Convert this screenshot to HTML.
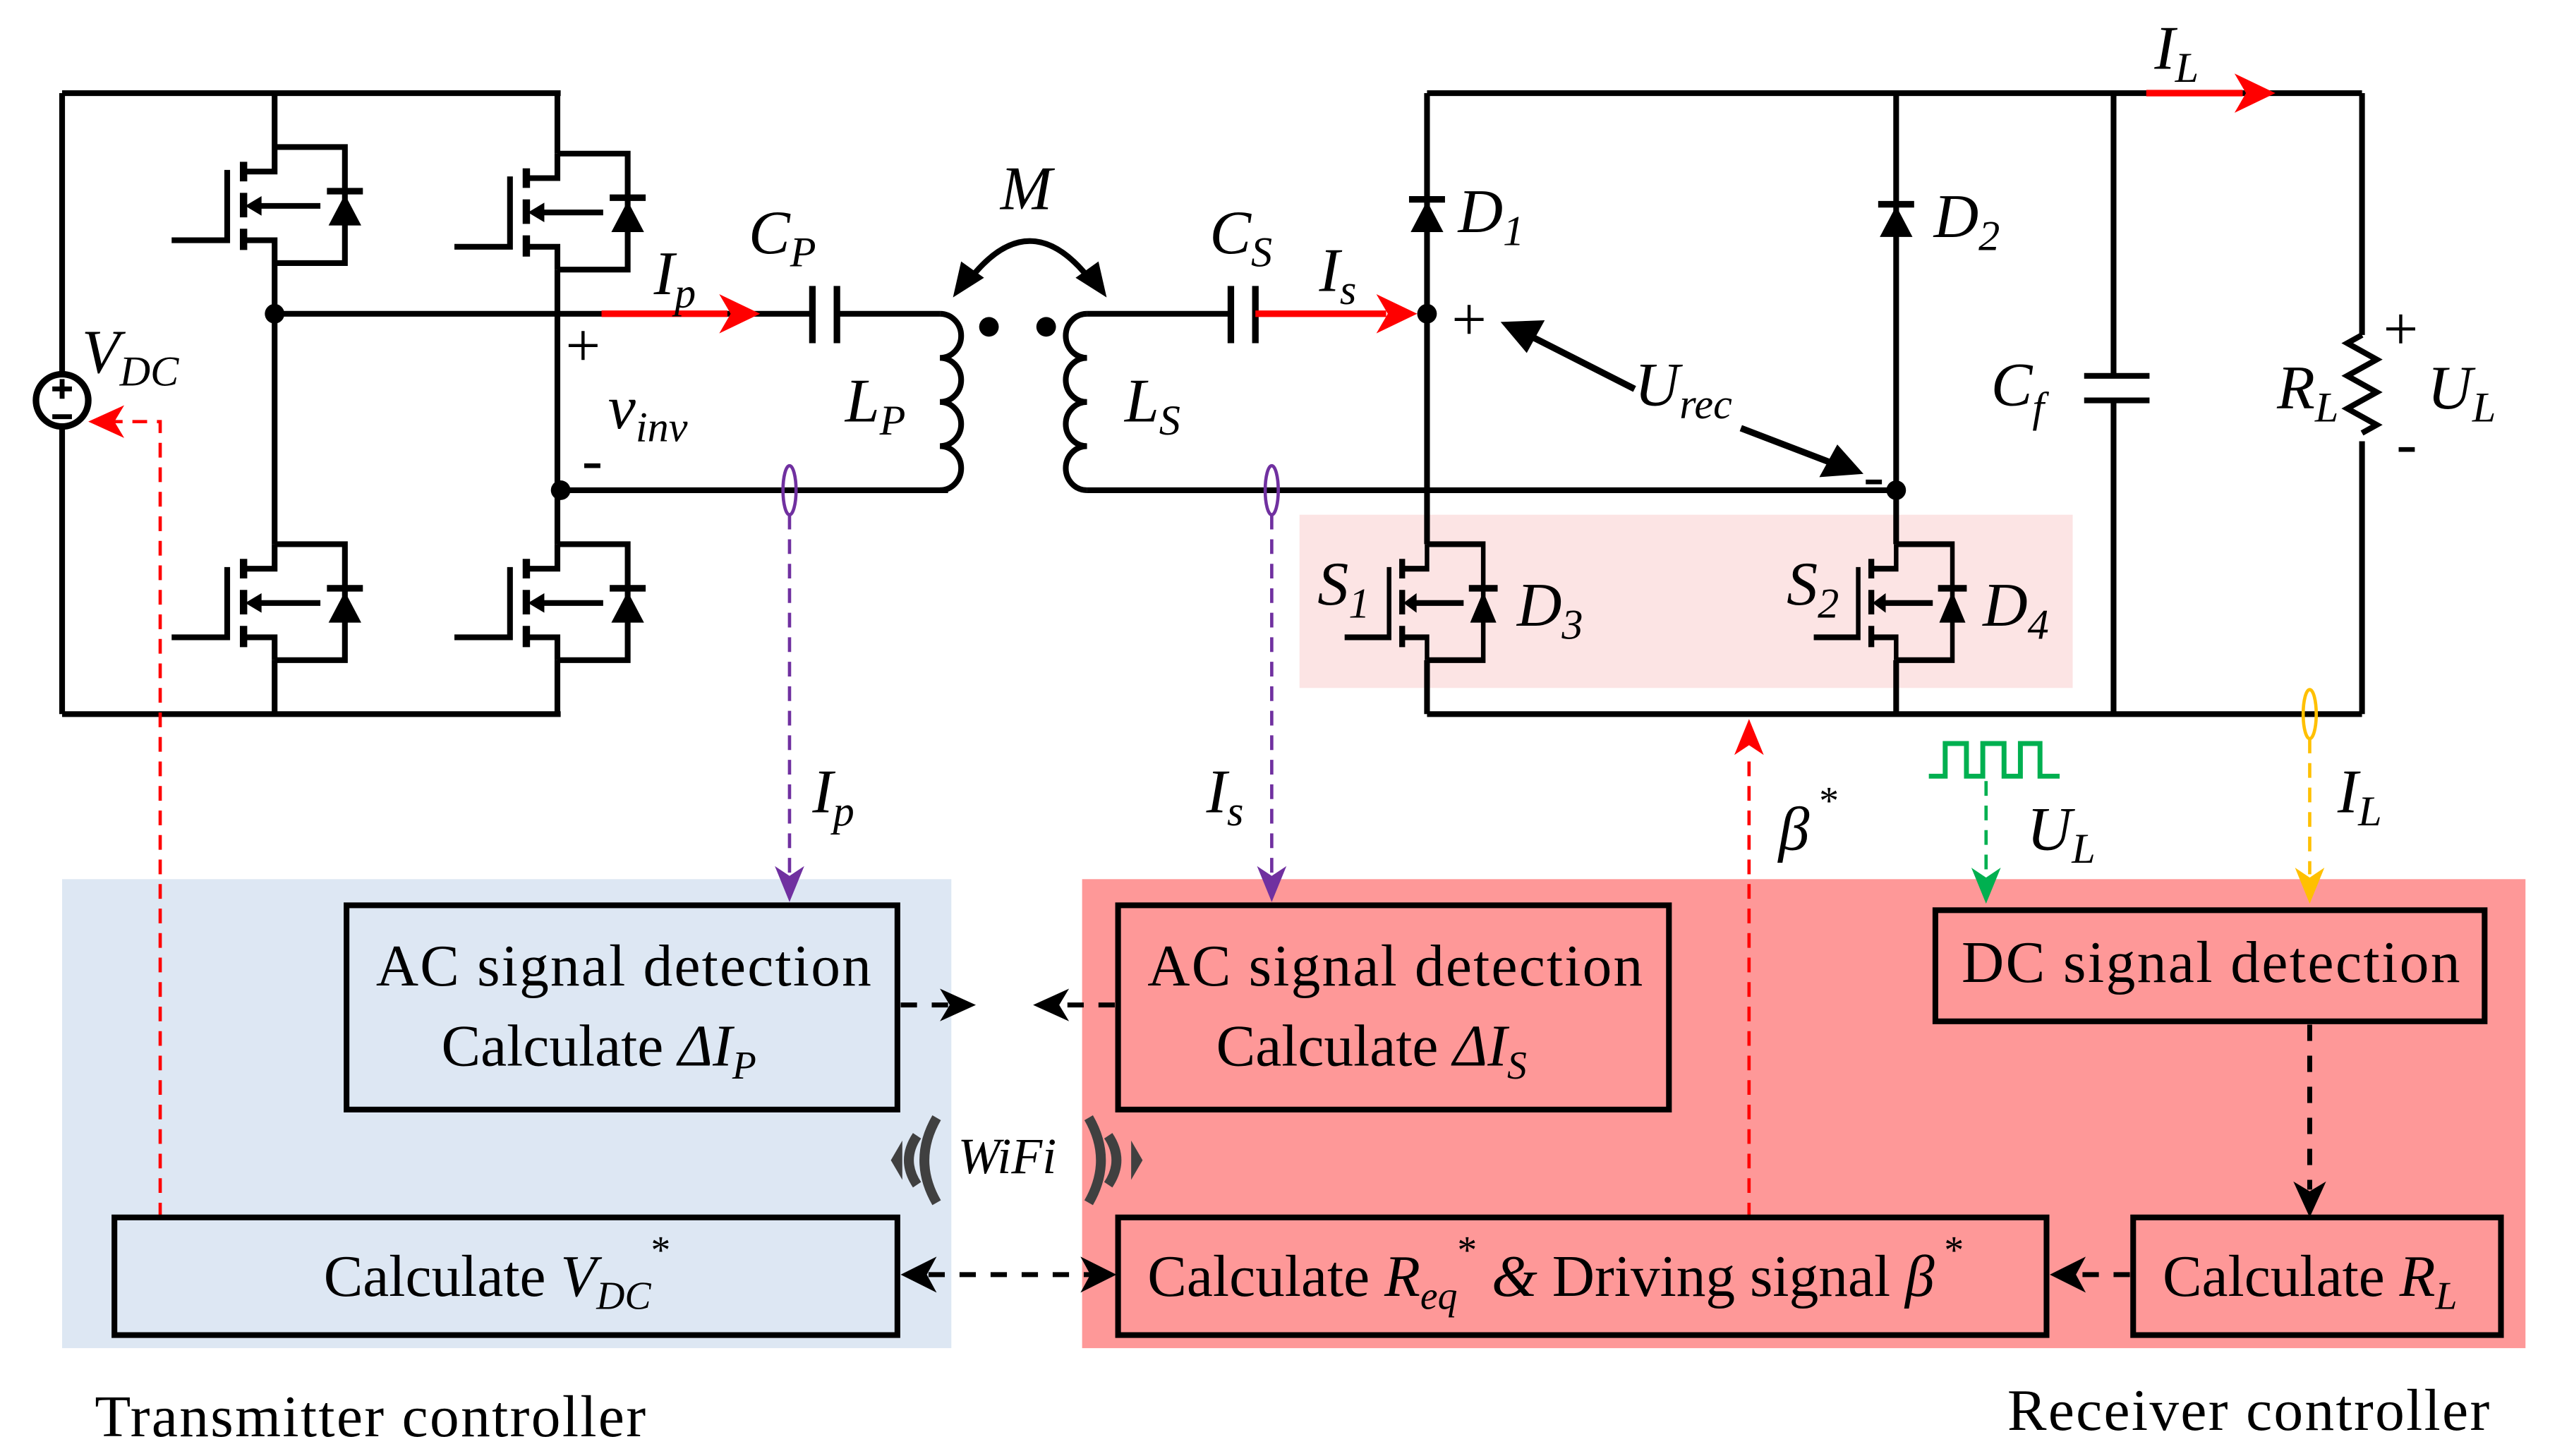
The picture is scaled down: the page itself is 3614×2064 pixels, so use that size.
<!DOCTYPE html>
<html><head><meta charset="utf-8"><style>
html,body{margin:0;padding:0;background:#fff}
svg{display:block}
text{font-family:"Liberation Serif",serif;fill:#000}
.i{font-style:italic}
</style></head><body>
<svg width="3614" height="2064" viewBox="0 0 1560 891" preserveAspectRatio="none" xmlns="http://www.w3.org/2000/svg">
<defs>
<g id="mos" stroke="#000" stroke-width="3.5" fill="none">
  <path d="M0,0 H43 V71 H0 M0,0 V15 H-19 M0,71 V57 H-19"/>
  <path d="M-19,9 V21 M-19,28 V43 M-19,50 V63" stroke-width="4.5"/>
  <path d="M-29,14 V57 H-63"/>
  <path d="M28,36 H-10"/>
  <path d="M32,27 H54" stroke-width="4"/>
  <polygon points="-18,36 -8,30 -8,42" fill="#000" stroke="none"/>
  <polygon points="43,29 33,48 53,48" fill="#000" stroke="none"/>
</g>
<g id="dio">
  <path d="M-11,0 H11" stroke="#000" stroke-width="4"/>
  <polygon points="0,1 -10,20 10,20" fill="#000"/>
</g>
</defs>

<rect x="38" y="538" width="544" height="287" fill="#dde7f3"/>
<rect x="662" y="538" width="883" height="287" fill="#fe9898"/>
<rect x="795" y="315" width="473" height="106" fill="#fce4e4"/>

<g stroke="#000" stroke-width="3.5" fill="none">
<path d="M38,57 H343 M38,437 H343 M38,57 V228 M38,262 V437"/>
<path d="M168,57 V90 M168,161 V333 M168,404 V437"/>
<path d="M341,57 V94 M341,165 V333 M341,404 V437"/>
<path d="M168,192 H368 M343,300 H580 M512,192 H575 M368,192 H497"/>
<path d="M497,175 V210 M512,175 V210" stroke-width="4"/>
<path d="M575,192 a13,13.5 0 0 1 0,27 a13,13.5 0 0 1 0,27 a13,13.5 0 0 1 0,27 a13,13.5 0 0 1 0,27"/>
<path d="M665,192 a13,13.5 0 0 0 0,27 a13,13.5 0 0 0 0,27 a13,13.5 0 0 0 0,27 a13,13.5 0 0 0 0,27"/>
<path d="M665,192 H753 M768,192 H800 M665,300 H1160"/>
<path d="M753,175 V210 M768,175 V210" stroke-width="4"/>
<path d="M873,57 H1445 M873,437 H1445 M873,57 V333 M873,404 V437 M1160,57 V333 M1160,404 V437"/>
<path d="M1293,57 V230 M1293,245 V437 M1275,230 H1315 M1275,245 H1315" />
<path d="M1445,57 V205 M1445,270 V437 M1445,205 l-9,5 l18,10 l-18,10 l18,10 l-18,10 l18,10 l-9,5"/>
<circle cx="38" cy="245" r="16" stroke-width="4"/>
<path d="M32,238 H44 M38,232 V244 M32,255 H44" stroke-width="3"/>
</g>
<use href="#mos" x="168" y="90"/>
<use href="#mos" x="341" y="94"/>
<use href="#mos" x="168" y="333"/>
<use href="#mos" x="341" y="333"/>
<use href="#mos" transform="translate(873,333) scale(0.8,1)"/>
<use href="#mos" transform="translate(1160,333) scale(0.8,1)"/>
<use href="#dio" x="873" y="122"/>
<use href="#dio" x="1160" y="125"/>
<g fill="#000">
<circle cx="168" cy="192" r="6"/><circle cx="343" cy="300" r="6"/>
<circle cx="873" cy="192" r="6"/><circle cx="1160" cy="300" r="6"/>
<circle cx="605" cy="200" r="6"/><circle cx="640" cy="200" r="6"/>
</g>
<path d="M594,170 Q630,125 666,170" stroke="#000" stroke-width="3.5" fill="none"/>
<polygon points="583,182 588,160 602,170" fill="#000"/>
<polygon points="677,182 672,160 658,170" fill="#000"/>
<path d="M1000,238 L935,205 M1065,262 L1125,285" stroke="#000" stroke-width="4"/>
<polygon points="918,197 945,196 934,216" fill="#000"/>
<polygon points="1140,290 1113,292 1124,272" fill="#000"/>
<path d="M368,192 H445 M768,192 H848 M1313,57 H1372" stroke="#f00" stroke-width="4"/>
<polygon points="465,192 440,180 447,192 440,204" fill="#f00"/>
<polygon points="867,192 842,180 849,192 842,204" fill="#f00"/>
<polygon points="1392,57 1367,45 1374,57 1367,69" fill="#f00"/>

<ellipse cx="483" cy="300" rx="4" ry="15" stroke="#7030a0" stroke-width="2" fill="none"/>
<ellipse cx="778" cy="300" rx="4" ry="15" stroke="#7030a0" stroke-width="2" fill="none"/>
<ellipse cx="1413" cy="437" rx="4" ry="15" stroke="#ffc000" stroke-width="2" fill="none"/>
<g fill="none" stroke-width="2" stroke-dasharray="9,6">
<path d="M483,315 V535" stroke="#7030a0"/>
<path d="M778,315 V535" stroke="#7030a0"/>
<path d="M1413,452 V535" stroke="#ffc000"/>
<path d="M1215,478 V535" stroke="#00b050"/>
<path d="M1070,745 V460" stroke="#f00"/>
<path d="M98,745 V258 H70" stroke="#f00"/>
</g>
<polygon points="483,552 474,530 483,536 492,530" fill="#7030a0"/>
<polygon points="778,552 769,530 778,536 787,530" fill="#7030a0"/>
<polygon points="1413,553 1404,531 1413,537 1422,531" fill="#ffc000"/>
<polygon points="1215,553 1206,531 1215,537 1224,531" fill="#00b050"/>
<polygon points="1070,440 1061,462 1070,456 1079,462" fill="#f00"/>
<polygon points="54,258 76,248 70,258 76,268" fill="#f00"/>
<path d="M1180,475 H1190 V455 H1203 V475 H1213 V455 H1226 V475 H1236 V455 H1248 V475 H1260" stroke="#00b050" stroke-width="3" fill="none"/>

<g stroke="#000" stroke-width="3" stroke-dasharray="10,9" fill="none">
<path d="M551,615 H580"/>
<path d="M682,615 H650"/>
<path d="M568,780 H668"/>
<path d="M1303,780 H1272"/>
<path d="M1413,627 V728"/>
</g>
<polygon points="597,615 575,605 581,615 575,625" fill="#000"/>
<polygon points="632,615 654,605 648,615 654,625" fill="#000"/>
<polygon points="551,780 573,769 567,780 573,791" fill="#000"/>
<polygon points="683,780 661,769 667,780 661,791" fill="#000"/>
<polygon points="1254,780 1276,769 1270,780 1276,791" fill="#000"/>
<polygon points="1413,745 1403,723 1413,729 1423,723" fill="#000"/>

<g stroke="#000" stroke-width="3.5" fill="none">
<rect x="212" y="554" width="337" height="125"/>
<rect x="684" y="554" width="337" height="125"/>
<rect x="1184" y="557" width="336" height="68"/>
<rect x="1305" y="745" width="225" height="72"/>
<rect x="684" y="745" width="568" height="72"/>
<rect x="70" y="745" width="479" height="72"/>
</g>

<!-- WiFi -->
<g fill="none" stroke="#404040" stroke-width="6">
<path d="M573,684 Q558,710 573,736"/>
<path d="M561,695 Q551,710 561,725"/>
<path d="M666,684 Q681,710 666,736"/>
<path d="M678,695 Q688,710 678,725"/>
</g>
<polygon points="545,710 552,698 552,722" fill="#404040"/>
<polygon points="699,710 692,698 692,722" fill="#404040"/>
<text x="586" y="718" class="i" font-size="31">WiFi</text>

<g font-size="36">
<text x="230" y="603" textLength="303">AC signal detection</text>
<text x="270" y="652">Calculate  <tspan class="i">ΔI</tspan><tspan class="i" font-size="24" dy="8">P</tspan></text>
<text x="702" y="603" textLength="303">AC signal detection</text>
<text x="744" y="652">Calculate  <tspan class="i">ΔI</tspan><tspan class="i" font-size="24" dy="8">S</tspan></text>
<text x="1200" y="601" textLength="305">DC signal detection</text>
<text x="1323" y="793">Calculate <tspan class="i">R</tspan><tspan class="i" font-size="24" dy="8">L</tspan></text>
<text x="702" y="793">Calculate <tspan class="i">R</tspan><tspan class="i" font-size="24" dy="8">eq</tspan><tspan font-size="24" dy="-28">*</tspan><tspan dy="20" class="i"> &amp; </tspan>Driving signal <tspan class="i">β</tspan><tspan font-size="24" dy="-20"> *</tspan></text>
<text x="198" y="793">Calculate <tspan class="i">V</tspan><tspan class="i" font-size="24" dy="8">DC</tspan><tspan font-size="24" dy="-28">*</tspan></text>
<text x="58" y="879" font-size="36" textLength="337">Transmitter controller</text>
<text x="1228" y="875" font-size="36" textLength="295">Receiver controller</text>
</g>

<g font-size="38" class="i">
<text x="50" y="228">V<tspan font-size="26" dy="8">DC</tspan></text>
<text x="400" y="180">I<tspan font-size="26" dy="8">p</tspan></text>
<text x="458" y="155">C<tspan font-size="26" dy="8">P</tspan></text>
<text x="372" y="262">v<tspan font-size="26" dy="8">inv</tspan></text>
<text x="517" y="258">L<tspan font-size="26" dy="8">P</tspan></text>
<text x="612" y="128">M</text>
<text x="740" y="155">C<tspan font-size="26" dy="8">S</tspan></text>
<text x="807" y="178">I<tspan font-size="26" dy="8">s</tspan></text>
<text x="688" y="258">L<tspan font-size="26" dy="8">S</tspan></text>
<text x="892" y="142">D<tspan font-size="26" dy="8">1</tspan></text>
<text x="1183" y="145">D<tspan font-size="26" dy="8">2</tspan></text>
<text x="1000" y="248">U<tspan font-size="26" dy="8">rec</tspan></text>
<text x="1218" y="248">C<tspan font-size="26" dy="10">f</tspan></text>
<text x="1393" y="250">R<tspan font-size="26" dy="8">L</tspan></text>
<text x="1485" y="250">U<tspan font-size="26" dy="8">L</tspan></text>
<text x="1318" y="42">I<tspan font-size="26" dy="8">L</tspan></text>
<text x="806" y="370">S<tspan font-size="26" dy="8">1</tspan></text>
<text x="928" y="383">D<tspan font-size="26" dy="8">3</tspan></text>
<text x="1093" y="370">S<tspan font-size="26" dy="8">2</tspan></text>
<text x="1213" y="383">D<tspan font-size="26" dy="8">4</tspan></text>
<text x="497" y="497" fill="#7030a0">I<tspan font-size="26" dy="8">p</tspan></text>
<text x="738" y="497" fill="#7030a0">I<tspan font-size="26" dy="8">s</tspan></text>
<text x="1088" y="520" fill="#f00">β<tspan font-size="24" dy="-22" font-style="normal"> *</tspan></text>
<text x="1240" y="520" fill="#00b050">U<tspan font-size="26" dy="8">L</tspan></text>
<text x="1430" y="497" fill="#ffc000">I<tspan font-size="26" dy="8">L</tspan></text>
</g>
<g font-size="38">
<text x="346" y="224">+</text><text x="356" y="294">-</text>
<text x="888" y="208">+</text><text x="1140" y="304">-</text>
<text x="1458" y="214">+</text><text x="1466" y="284">-</text>
</g>
</svg>
</body></html>
